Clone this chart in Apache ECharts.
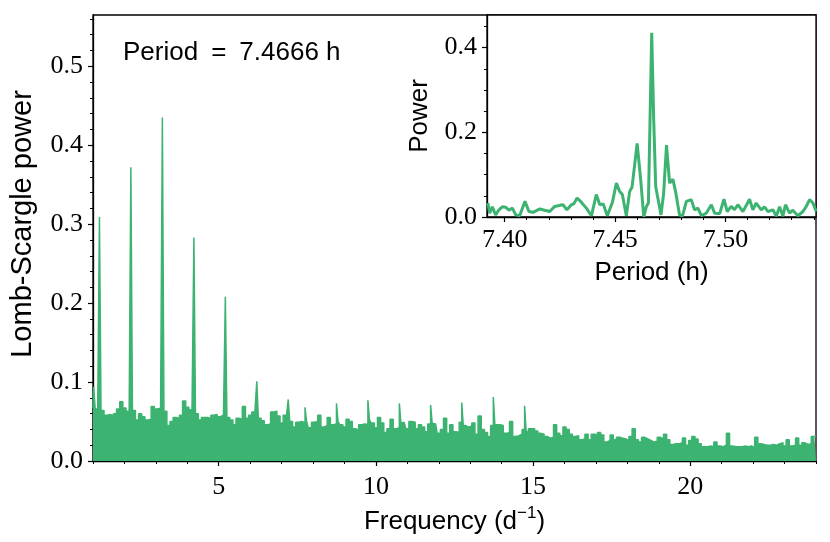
<!DOCTYPE html>
<html>
<head>
<meta charset="utf-8">
<script src="https://cdn.jsdelivr.net/npm/echarts@6/dist/echarts.min.js"></script>
<style>
html, body { margin: 0; padding: 0; background: #fff; }
#chart { width: 830px; height: 542px; }
</style>
</head>
<body>
<div id="chart"></div>
<script>
// Main periodogram: noise envelope read every 0.1 d^-1 from 1 to 24
const noiseFreqStart = 1.0;
const noiseFreqStep = 0.1;
const noisePower = [
    0.067, 0.066, 0.065, 0.064, 0.058, 0.059, 0.057, 0.060, 0.066, 0.075,
    0.067, 0.063, 0.062, 0.064, 0.052, 0.060, 0.056, 0.052, 0.053, 0.069,
    0.066, 0.067, 0.066, 0.063, 0.045, 0.050, 0.055, 0.054, 0.058, 0.076,
    0.068, 0.065, 0.064, 0.060, 0.052, 0.055, 0.055, 0.054, 0.058, 0.059,
    0.056, 0.058, 0.057, 0.055, 0.052, 0.046, 0.054, 0.053, 0.069, 0.054,
    0.058, 0.062, 0.060, 0.054, 0.051, 0.046, 0.047, 0.062, 0.063, 0.057,
    0.048, 0.058, 0.055, 0.050, 0.043, 0.049, 0.050, 0.048, 0.050, 0.042,
    0.049, 0.050, 0.058, 0.043, 0.045, 0.055, 0.046, 0.047, 0.050, 0.046,
    0.043, 0.053, 0.050, 0.041, 0.039, 0.046, 0.047, 0.046, 0.052, 0.048,
    0.042, 0.055, 0.048, 0.036, 0.041, 0.053, 0.041, 0.042, 0.048, 0.049,
    0.041, 0.050, 0.049, 0.041, 0.046, 0.043, 0.037, 0.047, 0.048, 0.047,
    0.035, 0.040, 0.054, 0.035, 0.046, 0.037, 0.036, 0.049, 0.045, 0.043,
    0.044, 0.048, 0.034, 0.057, 0.040, 0.036, 0.031, 0.045, 0.046, 0.046,
    0.045, 0.035, 0.036, 0.050, 0.031, 0.032, 0.034, 0.040, 0.037, 0.041,
    0.041, 0.038, 0.035, 0.034, 0.031, 0.029, 0.030, 0.046, 0.035, 0.032,
    0.043, 0.040, 0.034, 0.031, 0.032, 0.027, 0.028, 0.034, 0.027, 0.034,
    0.033, 0.036, 0.033, 0.024, 0.026, 0.033, 0.027, 0.030, 0.029, 0.028,
    0.026, 0.031, 0.041, 0.027, 0.024, 0.030, 0.028, 0.026, 0.024, 0.025,
    0.030, 0.028, 0.034, 0.027, 0.021, 0.022, 0.022, 0.023, 0.029, 0.020,
    0.026, 0.031, 0.028, 0.022, 0.018, 0.018, 0.019, 0.018, 0.024, 0.019,
    0.018, 0.020, 0.035, 0.019, 0.018, 0.018, 0.018, 0.019, 0.018, 0.019,
    0.017, 0.030, 0.022, 0.021, 0.020, 0.020, 0.021, 0.020, 0.022, 0.023,
    0.019, 0.027, 0.019, 0.020, 0.029, 0.020, 0.023, 0.021, 0.022, 0.031,
    0.031
];

// Narrow peaks (signal and its aliases)
const peakFreq  = [1.04, 1.21, 2.21, 3.214, 4.22, 5.22, 6.22, 7.22, 7.79, 8.79, 9.79, 10.79, 11.78, 12.76, 13.77, 14.76];
const peakPower = [0.094, 0.309, 0.372, 0.435, 0.283, 0.208, 0.101, 0.078, 0.068, 0.073, 0.077, 0.073, 0.071, 0.074, 0.081, 0.070];

// Inset: power vs period (h)
const insetPeriod = [
    7.3924, 7.3932, 7.3944, 7.3959, 7.3974, 7.3989, 7.4005, 7.4020, 7.4035, 7.4050,
    7.4068, 7.4092, 7.4110, 7.4128, 7.4144, 7.4159, 7.4181, 7.4204, 7.4227, 7.4246,
    7.4264, 7.4282, 7.4302, 7.4313, 7.4328, 7.4347, 7.4370, 7.4393, 7.4415, 7.4431,
    7.4446, 7.4465, 7.4488, 7.4506, 7.4521, 7.4533, 7.4551, 7.4566, 7.4577, 7.4600,
    7.4616, 7.4630, 7.4642, 7.4651, 7.4666, 7.4675, 7.4684, 7.4698, 7.4708, 7.4720,
    7.4733, 7.4747, 7.4762, 7.4774, 7.4792, 7.4805, 7.4823, 7.4845, 7.4860, 7.4875,
    7.4891, 7.4913, 7.4936, 7.4951, 7.4974, 7.4993, 7.5008, 7.5026, 7.5041, 7.5056,
    7.5079, 7.5094, 7.5109, 7.5124, 7.5139, 7.5162, 7.5177, 7.5192, 7.5215, 7.5230,
    7.5245, 7.5260, 7.5272, 7.5290, 7.5305, 7.5328, 7.5351, 7.5366, 7.5381, 7.5396,
    7.5411
];
const insetPower = [
    0.033, 0.009, 0.024, 0.005, 0.017, 0.024, 0.023, 0.016, 0.021, 0.005,
    0.003, 0.037, 0.013, 0.011, 0.015, 0.019, 0.016, 0.013, 0.025, 0.027,
    0.029, 0.017, 0.029, 0.031, 0.045, 0.035, 0.021, 0.003, 0.053, 0.029,
    0.031, 0.003, 0.035, 0.080, 0.060, 0.053, 0.003, 0.060, 0.071, 0.174,
    0.088, 0.000, 0.025, 0.033, 0.435, 0.229, 0.072, 0.033, 0.005, 0.056,
    0.170, 0.080, 0.089, 0.060, 0.005, 0.002, 0.037, 0.041, 0.017, 0.021,
    0.003, 0.009, 0.029, 0.009, 0.008, 0.042, 0.013, 0.025, 0.017, 0.029,
    0.013, 0.027, 0.042, 0.017, 0.033, 0.017, 0.024, 0.013, 0.017, 0.002,
    0.024, 0.002, 0.029, 0.009, 0.016, 0.003, 0.013, 0.025, 0.041, 0.033,
    0.013
];

// Ticks
const mainXMajor  = [5, 10, 15, 20];
const mainXMinor  = [1, 2, 3, 4, 5, 6, 7, 8, 9, 10, 11, 12, 13, 14, 15, 16, 17, 18, 19, 20, 21, 22, 23, 24];
const mainYMajor  = [0, 0.1, 0.2, 0.3, 0.4, 0.5];
const mainYMinor  = [0, 0.02, 0.04, 0.06, 0.08, 0.1, 0.12, 0.14, 0.16, 0.18, 0.2, 0.22, 0.24, 0.26, 0.28,
                     0.3, 0.32, 0.34, 0.36, 0.38, 0.4, 0.42, 0.44, 0.46, 0.48, 0.5, 0.52, 0.54, 0.56];
const insetXMajor = [7.40, 7.45, 7.50];
const insetXMinor = [7.40, 7.41, 7.42, 7.43, 7.44, 7.45, 7.46, 7.47, 7.48, 7.49, 7.50, 7.51, 7.52, 7.53, 7.54];
const insetYMajor = [0, 0.2, 0.4];
const insetYMinor = [0, 0.05, 0.1, 0.15, 0.2, 0.25, 0.3, 0.35, 0.4, 0.45];

const GREEN = '#3cb371';
const SERIF = '"Liberation Serif", "DejaVu Serif", serif';
const SANS = '"Liberation Sans", Arial, sans-serif';

// Merge noise envelope and peaks into one sorted series
const mainData = noisePower.map(function(v, i) {
    return [+(noiseFreqStart + i * noiseFreqStep).toFixed(2), v];
}).concat(peakFreq.map(function(f, i) { return [f, peakPower[i]]; }))
  .sort(function(a, b) { return a[0] - b[0]; });

const insetData = insetPeriod.map(function(p, i) { return [p, insetPower[i]]; });

function majorAxis(grid, min, max, ticks, digits, extra) {
    return Object.assign({
        type: 'value', gridIndex: grid, min: min, max: max,
        axisLine: { show: true, onZero: false, lineStyle: { color: '#000', width: 1.3 } },
        axisTick: { show: true, inside: false, length: 5, customValues: ticks, lineStyle: { color: '#000', width: 1.2 } },
        axisLabel: { customValues: ticks, color: '#000', fontFamily: SERIF, fontSize: 26, margin: 10,
                     formatter: function(v) { return v.toFixed(digits); } },
        splitLine: { show: false }
    }, extra || {});
}

function minorAxis(grid, min, max, ticks, position) {
    return {
        type: 'value', gridIndex: grid, min: min, max: max, position: position,
        axisLine: { show: false },
        axisTick: { show: true, inside: false, length: 3, customValues: ticks, lineStyle: { color: '#000', width: 1 } },
        axisLabel: { show: false, customValues: ticks },
        splitLine: { show: false }
    };
}

const chart = echarts.init(document.getElementById('chart'));
chart.setOption({
    animation: false,
    backgroundColor: '#fff',
    grid: [
        { left: 91, top: 15, width: 725, height: 446, show: true, borderColor: '#000', borderWidth: 1.3, backgroundColor: 'transparent' },
        { left: 487, top: 15, width: 329, height: 202, show: true, borderColor: '#000', borderWidth: 1.3, backgroundColor: '#fff', z: 5 }
    ],
    xAxis: [
        majorAxis(0, 1, 24, mainXMajor, 0, {
            position: 'bottom',
            axisLabel: { customValues: mainXMajor, color: '#000', fontFamily: SERIF, fontSize: 26, margin: 13 },
            name: '{t|Frequency (d}{s|\u22121}{t|)}',
            nameLocation: 'middle', nameGap: 42,
            nameTextStyle: { rich: {
                t: { fontFamily: SANS, fontSize: 26, color: '#000', lineHeight: 34 },
                s: { fontFamily: SANS, fontSize: 17, color: '#000', lineHeight: 17, verticalAlign: 'top' }
            } }
        }),
        minorAxis(0, 1, 24, mainXMinor, 'bottom'),
        majorAxis(1, 7.392, 7.541, insetXMajor, 2, {
            position: 'bottom', z: 6,
            name: 'Period (h)', nameLocation: 'middle', nameGap: 43,
            nameTextStyle: { fontFamily: SANS, fontSize: 26, color: '#000' }
        }),
        minorAxis(1, 7.392, 7.541, insetXMinor, 'bottom')
    ],
    yAxis: [
        majorAxis(0, 0, 0.565, mainYMajor, 1, {
            position: 'left',
            name: 'Lomb-Scargle power', nameLocation: 'middle', nameGap: 56,
            nameTextStyle: { fontFamily: SANS, fontSize: 29, color: '#000', padding: [0, 0, 0, 28] }
        }),
        minorAxis(0, 0, 0.565, mainYMinor, 'left'),
        majorAxis(1, 0, 0.477, insetYMajor, 1, {
            position: 'left', z: 6,
            name: 'Power', nameLocation: 'middle', nameGap: 54,
            nameTextStyle: { fontFamily: SANS, fontSize: 26, color: '#000' }
        }),
        minorAxis(1, 0, 0.477, insetYMinor, 'left')
    ],
    graphic: [{
        type: 'text', left: 123, top: 40,
        style: { text: 'Period\u2002=\u20027.4666 h', font: '26px ' + SANS, fill: '#000' }
    }],
    series: [
        {
            type: 'line', xAxisIndex: 0, yAxisIndex: 0, data: mainData,
            step: 'middle', symbol: 'none', silent: true,
            lineStyle: { color: GREEN, width: 1.5 },
            areaStyle: { color: GREEN, opacity: 1 }
        },
        {
            type: 'line', xAxisIndex: 2, yAxisIndex: 2, data: insetData,
            symbol: 'none', silent: true, clip: true, z: 7,
            lineStyle: { color: GREEN, width: 3 }
        }
    ]
});
</script>
</body>
</html>
